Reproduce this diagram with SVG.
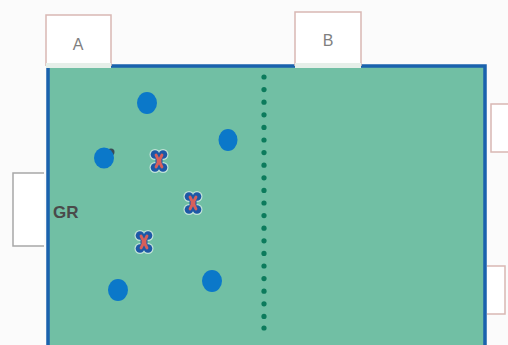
<svg xmlns="http://www.w3.org/2000/svg" width="508" height="345" viewBox="0 0 508 345">
  <defs>
    <style>
      .tab { fill: #ffffff; stroke: #d9b8b4; stroke-width: 1.5; }
      .gtab { fill: #ffffff; stroke: #a8a8a8; stroke-width: 1.5; }
      .lbl { font-family: "Liberation Sans", Arial, sans-serif; font-size: 16px; fill: #7f7f7f; text-anchor: middle; }
      .gr { font-family: "Liberation Sans", Arial, sans-serif; font-size: 17px; font-weight: bold; fill: #4a4a4a; }
      .player { fill: #0b78c9; }
      .dot { fill: #0c7b5c; }
    </style>
    <g id="xmark">
      <g fill="#e4f2ee" opacity="0.7">
        <circle cx="-4" cy="-6.5" r="5.5"/><circle cx="4" cy="-6.5" r="5.5"/>
        <circle cx="-4" cy="6.5" r="5.5"/><circle cx="4" cy="6.5" r="5.5"/>
      </g>
      <g fill="#1d58a6">
        <circle cx="-4" cy="-6.5" r="4.3"/><circle cx="4" cy="-6.5" r="4.3"/>
        <circle cx="-4" cy="6.5" r="4.3"/><circle cx="4" cy="6.5" r="4.3"/>
        <rect x="-3.5" y="-7" width="7" height="14"/>
      </g>
      <path d="M-3,-6 L3,6 M3,-6 L-3,6" stroke="#d8605a" stroke-width="2.8" stroke-linecap="round" fill="none"/>
      <circle r="2.5" fill="#d8605a"/>
    </g>
  </defs>
  <rect width="508" height="345" fill="#fbfbfb"/>

  <g id="field">
    <rect x="48" y="66" width="437" height="285" fill="#71bfa4"/>
    <path d="M48,345 L48,66 L485,66 L485,345" fill="none" stroke="#1a62ad" stroke-width="3.5"/>
  </g>

  <g id="tab-a">
    <path class="tab" d="M46,66 L46,15 L111,15 L111,66"/>
    <rect x="46" y="63" width="65" height="5" fill="#e6efe9"/>
    <text class="lbl" x="78" y="50">A</text>
  </g>
  <g id="tab-b">
    <path class="tab" d="M295,66 L295,12 L361,12 L361,66"/>
    <rect x="295" y="63" width="66" height="5" fill="#e6efe9"/>
    <text class="lbl" x="328" y="46">B</text>
  </g>
  <g id="tab-gr">
    <path class="gtab" d="M44,173 L13,173 L13,246 L44,246"/>
    <text class="gr" x="53" y="218">GR</text>
  </g>
  <g id="tab-right-top">
    <path class="tab" d="M508,104 L491,104 L491,152 L508,152" stroke="#d8d8d8"/>
  </g>
  <g id="tab-right-bottom">
    <path class="tab" d="M487,266 L505,266 L505,314 L487,314" stroke="#d0d0d0"/>
  </g>

  <g id="halfway-line">
    <circle class="dot" cx="264" cy="77" r="2.6"/>
    <circle class="dot" cx="264" cy="89.6" r="2.6"/>
    <circle class="dot" cx="264" cy="102.2" r="2.6"/>
    <circle class="dot" cx="264" cy="114.8" r="2.6"/>
    <circle class="dot" cx="264" cy="127.4" r="2.6"/>
    <circle class="dot" cx="264" cy="140" r="2.6"/>
    <circle class="dot" cx="264" cy="152.6" r="2.6"/>
    <circle class="dot" cx="264" cy="165.2" r="2.6"/>
    <circle class="dot" cx="264" cy="177.8" r="2.6"/>
    <circle class="dot" cx="264" cy="190.4" r="2.6"/>
    <circle class="dot" cx="264" cy="203" r="2.6"/>
    <circle class="dot" cx="264" cy="215.6" r="2.6"/>
    <circle class="dot" cx="264" cy="228.2" r="2.6"/>
    <circle class="dot" cx="264" cy="240.8" r="2.6"/>
    <circle class="dot" cx="264" cy="253.4" r="2.6"/>
    <circle class="dot" cx="264" cy="266" r="2.6"/>
    <circle class="dot" cx="264" cy="278.6" r="2.6"/>
    <circle class="dot" cx="264" cy="291.2" r="2.6"/>
    <circle class="dot" cx="264" cy="303.8" r="2.6"/>
    <circle class="dot" cx="264" cy="316.4" r="2.6"/>
    <circle class="dot" cx="264" cy="328" r="2.6"/>
  </g>

  <g id="players-blue">
    <ellipse class="player" cx="147" cy="103" rx="10" ry="11"/>
    <ellipse class="player" cx="228" cy="140" rx="9.5" ry="11"/>
    <circle cx="111" cy="152" r="3.5" fill="#3a4a55"/>
    <ellipse class="player" cx="104" cy="158" rx="10" ry="10.5"/>
    <ellipse class="player" cx="118" cy="290" rx="10" ry="11"/>
    <ellipse class="player" cx="212" cy="281" rx="10" ry="11"/>
  </g>

  <g id="players-x">
    <use href="#xmark" x="159" y="161"/>
    <use href="#xmark" x="193" y="203"/>
    <use href="#xmark" x="144" y="242"/>
  </g>
</svg>
